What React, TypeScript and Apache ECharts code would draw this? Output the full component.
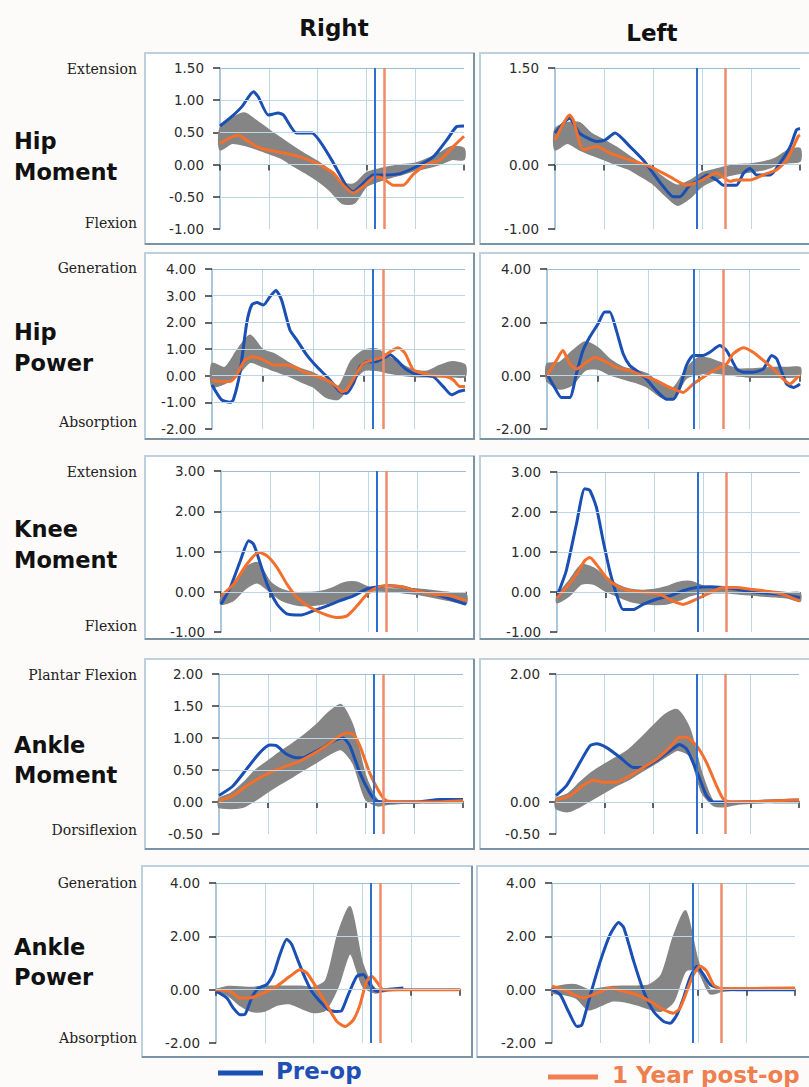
import React, { useEffect, useRef } from "react";
import * as echarts from "echarts";

// ---------- DATA ----------
const BAND_X = [0, 5, 10, 15, 20, 25, 30, 35, 40, 45, 50, 55, 60, 65, 70, 75, 80, 85, 90, 95, 100];

const RIGHT_TOE_PRE = 63.4;
const RIGHT_TOE_POST = 67.5;
const LEFT_TOE_PRE = 58;
const LEFT_TOE_POST = 69.5;

// Hip moment
const RHM_TICKS = [-1, -0.5, 0, 0.5, 1, 1.5];
const RHM_LO = [0.23, 0.33, 0.30, 0.24, 0.17, 0.10, -0.02, -0.13, -0.25, -0.40, -0.60, -0.60, -0.34, -0.26, -0.20, -0.15, -0.09, -0.05, 0.00, 0.08, 0.08];
const RHM_HI = [0.56, 0.72, 0.80, 0.68, 0.54, 0.41, 0.28, 0.16, 0.05, -0.09, -0.28, -0.30, -0.13, -0.07, -0.03, 0.00, 0.02, 0.09, 0.18, 0.28, 0.25];
const RHM_PRE = [[0,0.60],[5.5,0.77],[9,0.9],[13.7,1.13],[15.7,1.05],[19.8,0.77],[23.9,0.80],[26,0.77],[31.4,0.49],[37.6,0.49],[45,0.12],[51.9,-0.34],[54.6,-0.42],[58,-0.32],[62.8,-0.16],[67,-0.16],[73.8,-0.14],[80.6,-0.03],[87.4,0.12],[92.9,0.38],[97,0.59],[100,0.60]];
const RHM_POST = [[0,0.33],[7.5,0.46],[10.9,0.38],[15,0.28],[19.1,0.23],[26,0.18],[32.8,0.12],[39.6,0.02],[46.4,-0.13],[50.5,-0.32],[54.6,-0.44],[58.7,-0.34],[63.5,-0.19],[67,-0.22],[71,-0.32],[75.1,-0.32],[79.2,-0.15],[84.7,0.0],[90.2,0.07],[95.6,0.28],[100,0.44]];

const LHM_TICKS = [-1, 0, 1.5];
const LHM_LO = [0.23, 0.33, 0.23, 0.15, 0.08, 0.00, -0.07, -0.18, -0.30, -0.48, -0.63, -0.52, -0.34, -0.24, -0.18, -0.14, -0.11, -0.08, -0.02, 0.03, 0.05];
const LHM_HI = [0.55, 0.65, 0.65, 0.48, 0.38, 0.27, 0.14, 0.02, -0.08, -0.22, -0.32, -0.25, -0.13, -0.08, -0.03, 0.00, 0.01, 0.04, 0.10, 0.22, 0.25];
const LHM_PRE = [[0,0.49],[6,0.72],[10,0.49],[17,0.36],[20.4,0.38],[24.5,0.49],[30.6,0.28],[36,0.07],[40,-0.13],[44.2,-0.34],[48.3,-0.50],[51,-0.50],[55,-0.32],[59,-0.24],[62,-0.16],[66,-0.24],[68.7,-0.32],[74,-0.32],[77,-0.13],[79.6,-0.06],[82.3,-0.16],[87.8,-0.16],[91.8,0.02],[96,0.28],[98.6,0.54],[100,0.56]];
const LHM_POST = [[0,0.38],[6,0.77],[7.5,0.69],[11.6,0.23],[17,0.28],[22.4,0.18],[30.6,0.07],[38.8,-0.03],[47,-0.19],[53.7,-0.32],[59,-0.26],[66,-0.13],[71.4,-0.26],[74,-0.24],[79.6,-0.24],[85,-0.16],[90.5,-0.08],[94.6,0.07],[99.3,0.44],[100,0.46]];

// Hip power
const RHP_TICKS = [-2, -1, 0, 1, 2, 3, 4];
const RHP_LO = [-0.41, -0.30, 0.0, 0.5, 0.35, 0.17, 0.0, -0.22, -0.42, -0.80, -0.88, -0.30, 0.20, 0.20, 0.10, 0.02, -0.03, -0.04, -0.04, -0.04, -0.04];
const RHP_HI = [0.46, 0.30, 0.96, 1.52, 0.98, 0.80, 0.50, 0.26, 0.10, -0.15, -0.40, 0.55, 0.95, 1.00, 0.70, 0.42, 0.20, 0.17, 0.38, 0.52, 0.40];
const RHP_PRE = [[0,-0.35],[3.8,-0.91],[7.1,-1.0],[8.4,-0.91],[11,0.09],[13.7,1.96],[15.7,2.65],[17.7,2.74],[20.3,2.65],[22.9,2.96],[25.3,3.19],[27.5,2.84],[30.8,1.71],[33.5,1.34],[37.4,0.78],[41.4,0.34],[46.6,-0.16],[50.6,-0.6],[53.2,-0.66],[55.9,-0.29],[58.5,0.34],[61.1,0.52],[64.4,0.52],[67.7,0.65],[70.4,0.78],[73,0.59],[76.3,0.27],[79.6,0.09],[82.2,0.03],[87.5,-0.04],[91.4,-0.41],[94.7,-0.72],[97.4,-0.6],[100,-0.54]];
const RHP_POST = [[0,-0.16],[3.2,-0.22],[7.1,-0.22],[9.7,0.02],[13,0.59],[16.3,0.71],[20.3,0.59],[24.2,0.4],[28.2,0.4],[32.1,0.34],[36.1,0.15],[40.1,0.02],[45.3,-0.16],[49.3,-0.41],[51.3,-0.6],[53.2,-0.54],[57.2,0.09],[59.8,0.46],[63.8,0.59],[67.7,0.71],[70.4,0.9],[73.6,1.05],[76.3,0.84],[79.6,0.21],[83.5,0.09],[87.5,0.02],[92.8,-0.04],[95.4,-0.16],[98,-0.41],[100,-0.41]];

const LHP_TICKS = [-2, 0, 2, 4];
const LHP_LO = [-0.19, -0.50, -0.35, 0.20, 0.25, 0.03, -0.12, -0.25, -0.45, -0.80, -0.85, -0.10, 0.05, 0.12, 0.05, 0.00, -0.05, -0.06, -0.06, -0.06, 0.00];
const LHP_HI = [0.44, 0.50, 0.92, 1.26, 1.05, 0.60, 0.32, 0.20, 0.05, -0.35, -0.45, 0.25, 0.68, 0.62, 0.43, 0.25, 0.25, 0.28, 0.31, 0.31, 0.31];
const LHP_PRE = [[0,0.06],[3,-0.44],[5.7,-0.82],[9,-0.82],[11.6,0.06],[14.2,0.94],[16.9,1.45],[20.2,1.95],[22.8,2.39],[24.8,2.39],[27.4,1.70],[30.1,0.82],[32.7,0.38],[35.4,0.19],[39.3,-0.13],[43.3,-0.57],[47.2,-0.88],[49.9,-0.88],[52.5,-0.44],[55.1,0.38],[57.8,0.76],[61.7,0.76],[64.4,0.88],[68.3,1.13],[71,0.94],[75,0.25],[77.6,0.13],[81.5,0.13],[85.5,0.25],[88.8,0.76],[90.8,0.63],[94.7,-0.31],[97.4,-0.44],[100,-0.31]];
const LHP_POST = [[0,0],[3.7,0.57],[6.3,0.94],[9,0.44],[11.6,0.25],[15.6,0.5],[18.9,0.69],[22.2,0.57],[27.4,0.31],[32.7,0.19],[38,0.0],[43.3,-0.19],[48.5,-0.44],[53.8,-0.63],[57.8,-0.31],[61.7,-0.06],[67,0.25],[71,0.44],[73.6,0.82],[77.6,1.05],[81.5,0.88],[85.5,0.57],[89.4,0.25],[93.4,-0.13],[96,-0.31],[100,0.06]];

// Knee moment
const RKM_TICKS = [-1, 0, 1, 2, 3];
const RKM_LO = [-0.31, -0.22, 0.08, 0.22, 0.00, -0.22, -0.32, -0.35, -0.32, -0.26, -0.15, -0.04, 0.02, 0.02, 0.01, -0.03, -0.06, -0.12, -0.18, -0.24, -0.31];
const RKM_HI = [-0.14, 0.18, 0.60, 0.72, 0.25, 0.05, -0.02, -0.02, 0.00, 0.08, 0.22, 0.24, 0.12, 0.08, 0.07, 0.07, 0.07, 0.04, 0.00, -0.03, -0.06];
const RKM_PRE = [[0,-0.31],[3.8,0.11],[7.9,0.77],[11.3,1.27],[13.3,1.18],[16.1,0.69],[18.8,0.19],[22.9,-0.31],[26.9,-0.55],[32.4,-0.58],[37.8,-0.47],[43.3,-0.35],[48.7,-0.22],[54.1,-0.10],[59.6,0.07],[63.7,0.12],[69.1,0.15],[74.6,0.11],[80,0.02],[86.8,-0.06],[93.6,-0.18],[100,-0.31]];
const RKM_POST = [[0,-0.1],[5.2,0.19],[10.6,0.69],[15.4,0.98],[18.8,0.89],[22.9,0.6],[26.9,0.19],[31,-0.14],[36.5,-0.39],[41.9,-0.55],[47.3,-0.64],[51.4,-0.6],[55.5,-0.35],[59.6,-0.06],[63.7,0.11],[67.8,0.15],[73.2,0.13],[80,0.02],[86.8,-0.06],[93.6,-0.1],[100,-0.22]];

const LKM_TICKS = [-1, 0, 1, 2, 3];
const LKM_LO = [-0.27, -0.10, 0.20, 0.20, 0.02, -0.11, -0.23, -0.29, -0.31, -0.30, -0.21, -0.09, -0.02, -0.02, -0.02, -0.05, -0.07, -0.10, -0.12, -0.15, -0.23];
const LKM_HI = [-0.10, 0.28, 0.68, 0.60, 0.38, 0.18, 0.07, 0.04, 0.06, 0.13, 0.24, 0.26, 0.15, 0.10, 0.07, 0.05, 0.03, 0.03, 0.01, -0.02, -0.02];
const LKM_PRE = [[0,-0.1],[3.8,0.53],[8,1.7],[11.4,2.58],[13.5,2.54],[16.2,2.12],[19,1.28],[21.7,0.53],[24.5,-0.06],[27.2,-0.44],[31.3,-0.44],[35.4,-0.31],[40.9,-0.18],[46.4,-0.1],[51.9,0.03],[57.4,0.11],[62.9,0.13],[68.4,0.11],[73.9,0.07],[79.4,0.01],[84.9,-0.02],[93.1,-0.06],[100,-0.14]];
const LKM_POST = [[0,-0.14],[3.8,0.11],[8,0.44],[11.4,0.78],[13.5,0.86],[16.2,0.69],[20.3,0.36],[24.5,0.15],[30,0.03],[36.8,-0.02],[42.3,-0.06],[47.8,-0.23],[51.9,-0.31],[57.4,-0.18],[62.9,-0.02],[68.4,0.11],[73.9,0.11],[79.4,0.07],[84.9,0.03],[93.1,-0.06],[100,-0.23]];

// Ankle moment
const RAM_TICKS = [-0.5, 0, 0.5, 1, 1.5, 2];
const RAM_LO = [-0.08, -0.10, -0.08, 0.03, 0.16, 0.28, 0.39, 0.51, 0.62, 0.74, 0.82, 0.60, 0.05, -0.06, -0.03, -0.02, -0.01, -0.01, -0.01, -0.01, -0.01];
const RAM_HI = [0.05, 0.14, 0.30, 0.50, 0.64, 0.78, 0.91, 1.05, 1.21, 1.40, 1.52, 1.18, 0.42, 0.03, 0.01, 0.01, 0.01, 0.01, 0.01, 0.01, 0.01];
const RAM_PRE = [[0,0.1],[5.7,0.25],[11.2,0.51],[16.7,0.77],[20.8,0.89],[23.5,0.88],[27.6,0.75],[31.7,0.69],[34.4,0.69],[38.5,0.77],[42.6,0.85],[46.7,0.95],[50.8,1.0],[53.6,0.88],[57.7,0.46],[61.7,0.15],[64.5,0.02],[68.6,0.0],[80.9,0.0],[90.4,0.04],[100,0.04]];
const RAM_POST = [[0,0.02],[5.7,0.1],[11.2,0.25],[16.7,0.38],[20.8,0.46],[26.2,0.54],[33.1,0.64],[38.5,0.75],[44,0.88],[49.5,1.03],[52.2,1.08],[54.9,1.06],[57.7,0.88],[61.7,0.46],[65.8,0.15],[68.6,0.02],[74,0.0],[87.7,0.0],[100,0.02]];

const LAM_TICKS = [-0.5, 0, 2];
const LAM_LO = [-0.10, -0.15, -0.07, 0.04, 0.15, 0.26, 0.35, 0.47, 0.58, 0.70, 0.81, 0.72, 0.15, -0.06, -0.07, -0.03, -0.02, -0.01, -0.01, -0.01, -0.01];
const LAM_HI = [0.05, 0.13, 0.31, 0.47, 0.59, 0.70, 0.82, 1.00, 1.19, 1.37, 1.44, 1.15, 0.45, -0.01, -0.01, 0.00, 0.01, 0.01, 0.01, 0.01, 0.01];
const LAM_PRE = [[0,0.1],[4.4,0.26],[9.9,0.62],[14,0.88],[16.7,0.91],[20.8,0.85],[26.3,0.70],[31.8,0.54],[35.9,0.54],[41.4,0.65],[46.8,0.8],[50.9,0.9],[53.7,0.83],[56.4,0.62],[59.2,0.36],[61.9,0.1],[64.7,0.0],[71.5,0.0],[100,0.03]];
const LAM_POST = [[0,0.03],[5.8,0.1],[11.2,0.26],[15.3,0.34],[19.5,0.31],[24.9,0.31],[30.4,0.41],[35.9,0.54],[41.4,0.67],[46.8,0.85],[50.9,1.01],[53.7,1.01],[57.8,0.88],[61.9,0.62],[66,0.26],[68.8,0.05],[71.5,0.0],[100,0.03]];

// Ankle power
const RAP_TICKS = [-2, 0, 2, 4];
const RAP_LO = [-0.06, -0.22, -0.60, -0.82, -0.80, -0.58, -0.52, -0.70, -0.86, -0.75, 0.10, 1.35, 0.15, -0.12, -0.05, -0.02, -0.02, -0.02, -0.02, -0.02, -0.02];
const RAP_HI = [0.00, 0.12, 0.10, 0.08, 0.13, 0.13, 0.13, 0.13, 0.08, 0.35, 2.10, 3.10, 1.00, 0.05, 0.02, 0.02, 0.02, 0.02, 0.02, 0.02, 0.02];
const RAP_PRE = [[0,-0.06],[4.4,-0.31],[7.1,-0.69],[9.8,-0.94],[11.9,-0.92],[14.6,-0.31],[17.3,0.06],[20.8,0.19],[23.5,0.57],[26.2,1.32],[29,1.89],[31,1.7],[33.7,1.07],[36.5,0.44],[39.2,-0.06],[42.6,-0.44],[46,-0.75],[49.5,-0.82],[51.5,-0.79],[54.2,-0.19],[57.7,0.5],[60.4,0.57],[63.1,0.19],[65.8,-0.06],[69.9,0.0],[76.8,0.06]];
const RAP_POST = [[0,0],[5.7,-0.06],[9.8,-0.31],[13.9,-0.31],[19.4,-0.13],[24.9,0.13],[30.3,0.5],[34.4,0.75],[37.2,0.63],[41.3,0.06],[45.4,-0.57],[49.5,-1.19],[52.9,-1.38],[56.3,-1.13],[59,-0.57],[61.7,0.31],[63.8,0.5],[65.8,0.31],[68.6,0.0],[100,0.0]];

const LAP_TICKS = [-2, 0, 2, 4];
const LAP_LO = [-0.13, -0.18, -0.32, -0.75, -0.60, -0.42, -0.45, -0.57, -0.72, -0.80, -0.45, 0.70, 0.70, -0.15, -0.06, -0.02, -0.02, -0.02, -0.02, -0.02, -0.02];
const LAP_HI = [0.06, 0.17, 0.18, 0.00, 0.05, 0.12, 0.13, 0.13, 0.18, 0.55, 2.00, 2.95, 1.10, 0.02, 0.02, 0.02, 0.02, 0.02, 0.02, 0.02, 0.02];
const LAP_PRE = [[0,0],[3.4,-0.19],[6.8,-0.82],[10.3,-1.38],[12.3,-1.32],[15.8,-0.19],[19.9,1.07],[24,2.08],[27.4,2.52],[29.5,2.33],[33.6,1.07],[37.7,-0.06],[41.8,-0.82],[45.9,-1.19],[48.6,-1.26],[51.4,-0.94],[54.1,-0.31],[56.8,0.44],[59.6,0.88],[62.3,0.57],[65.1,0.19],[69.2,0.04],[76,0.0],[100,0.0]];
const LAP_POST = [[0,0.13],[4.8,0.0],[8.9,-0.19],[13,-0.31],[18.5,-0.13],[24,0.06],[29.5,-0.06],[34.9,-0.19],[40.4,-0.44],[45.9,-0.75],[50,-0.88],[52.7,-0.69],[55.5,-0.06],[58.2,0.57],[61,0.88],[63.7,0.69],[66.4,0.19],[69.2,0.04],[100,0.06]];

const ROW_NAMES = [["Hip", "Moment"], ["Hip", "Power"], ["Knee", "Moment"], ["Ankle", "Moment"], ["Ankle", "Power"]];
const ROW_SENSE = [["Extension", "Flexion"], ["Generation", "Absorption"], ["Extension", "Flexion"], ["Plantar Flexion", "Dorsiflexion"], ["Generation", "Absorption"]];
const SIDE_TITLES = ["Right", "Left"];
const LEGEND_NAMES = ["Pre-op", "1 Year post-op"];

// ---------- LAYOUT / STYLE ----------
const BLUE = "#1a4fb4";
const ORANGE = "#f26f2c";
const GRAY = "#858585";
const GRID_C = "#bcd5e7";
const SERIF = "'DejaVu Serif', 'Liberation Serif', serif";

type P = { g: number[]; ticks: number[]; lo: number[]; hi: number[]; pre: number[][]; post: number[][]; toe: number[] };
const PANELS: P[] = [
  { g: [220, 68, 244, 161], ticks: RHM_TICKS, lo: RHM_LO, hi: RHM_HI, pre: RHM_PRE, post: RHM_POST, toe: [RIGHT_TOE_PRE, RIGHT_TOE_POST] },
  { g: [555, 68, 245, 161], ticks: LHM_TICKS, lo: LHM_LO, hi: LHM_HI, pre: LHM_PRE, post: LHM_POST, toe: [LEFT_TOE_PRE, LEFT_TOE_POST] },
  { g: [212, 269, 253, 160], ticks: RHP_TICKS, lo: RHP_LO, hi: RHP_HI, pre: RHP_PRE, post: RHP_POST, toe: [RIGHT_TOE_PRE, RIGHT_TOE_POST] },
  { g: [547, 269, 253, 160], ticks: LHP_TICKS, lo: LHP_LO, hi: LHP_HI, pre: LHP_PRE, post: LHP_POST, toe: [LEFT_TOE_PRE, LEFT_TOE_POST] },
  { g: [221, 471, 245, 161], ticks: RKM_TICKS, lo: RKM_LO, hi: RKM_HI, pre: RKM_PRE, post: RKM_POST, toe: [RIGHT_TOE_PRE, RIGHT_TOE_POST] },
  { g: [557, 472, 243, 160], ticks: LKM_TICKS, lo: LKM_LO, hi: LKM_HI, pre: LKM_PRE, post: LKM_POST, toe: [LEFT_TOE_PRE, LEFT_TOE_POST] },
  { g: [219, 674, 244, 160], ticks: RAM_TICKS, lo: RAM_LO, hi: RAM_HI, pre: RAM_PRE, post: RAM_POST, toe: [RIGHT_TOE_PRE, RIGHT_TOE_POST] },
  { g: [556, 674, 243, 160], ticks: LAM_TICKS, lo: LAM_LO, hi: LAM_HI, pre: LAM_PRE, post: LAM_POST, toe: [LEFT_TOE_PRE, LEFT_TOE_POST] },
  { g: [216, 883, 244, 160], ticks: RAP_TICKS, lo: RAP_LO, hi: RAP_HI, pre: RAP_PRE, post: RAP_POST, toe: [RIGHT_TOE_PRE, RIGHT_TOE_POST] },
  { g: [552, 883, 243, 160], ticks: LAP_TICKS, lo: LAP_LO, hi: LAP_HI, pre: LAP_PRE, post: LAP_POST, toe: [LEFT_TOE_PRE, LEFT_TOE_POST] },
];

const BOXES = [
  [145, 53, 329, 191], [480, 53, 335, 191],
  [145, 253, 329, 186], [480, 253, 335, 186],
  [145, 456, 329, 183], [480, 456, 335, 183],
  [145, 659, 329, 190], [480, 659, 335, 190],
  [142, 866, 330, 191], [477, 866, 338, 191],
];
const ROW_Y = [[141, 172], [332, 363], [529, 560], [745, 775], [947, 977]];
const SENSE_Y = [[69, 223], [268, 422], [472, 626], [675, 830], [883, 1038]];

function buildOption() {
  const grid: any[] = [];
  const xAxis: any[] = [];
  const yAxis: any[] = [];
  const series: any[] = [];
  PANELS.forEach((p, i) => {
    const [l, t, w, h] = p.g;
    const ymin = p.ticks[0];
    const ymax = p.ticks[p.ticks.length - 1];
    grid.push({ left: l, top: t, width: w, height: h });
    xAxis.push({
      gridIndex: i, type: "value", min: 0, max: 100, interval: 20,
      axisLine: { show: false },
      axisTick: { show: true, length: 6, inside: false, lineStyle: { color: "#333", width: 1.5 } },
      axisLabel: { show: false },
      splitLine: { show: true, showMinLine: false, showMaxLine: false, lineStyle: { color: GRID_C, width: 1 } },
    });
    yAxis.push({
      gridIndex: i, type: "value", min: ymin, max: ymax,
      axisLine: { show: true, lineStyle: { color: "#8fb5cf", width: 1.5 } },
      axisTick: { show: true, length: 7, customValues: p.ticks, lineStyle: { color: "#333", width: 1.5 } },
      axisLabel: {
        show: true, customValues: p.ticks, margin: 16,
        formatter: (v: number) => v.toFixed(2),
        fontFamily: "DejaVu Sans", fontSize: 13.5, color: "#2b2b2b",
      },
      splitLine: { show: false },
    });
    // horizontal gridlines
    series.push({
      type: "line", xAxisIndex: i, yAxisIndex: i, data: [], z: 1, silent: true,
      markLine: {
        silent: true, symbol: ["none", "none"], label: { show: false },
        lineStyle: { color: GRID_C, width: 1, type: "solid" },
        data: p.ticks.filter((v) => v !== ymin).map((v) => ({ yAxis: v, lineStyle: v === ymax ? { color: "#9dbdd3", width: 1.2, type: "solid" } : undefined })),
      },
    });
    // normal-range band drawn as polygon through the axis scales
    const lo = p.lo, hi = p.hi;
    series.push({
      type: "custom", xAxisIndex: i, yAxisIndex: i, coordinateSystem: "cartesian2d",
      data: [[0, 0]], silent: true, z: 2,
      renderItem: (_params: any, api: any) => {
        const upper = BAND_X.map((x, k) => api.coord([x, hi[k]]));
        const lower = BAND_X.map((x, k) => api.coord([x, lo[k]])).reverse();
        return {
          type: "polygon",
          shape: { points: upper.concat(lower), smooth: 0.25 },
          style: { fill: GRAY, stroke: GRAY, lineWidth: 1.5 },
        };
      },
    });
    series.push({
      type: "line", xAxisIndex: i, yAxisIndex: i, data: p.pre, symbol: "none", smooth: 0.2,
      lineStyle: { color: BLUE, width: 3 }, silent: true, z: 3,
    });
    series.push({
      type: "line", xAxisIndex: i, yAxisIndex: i, data: p.post, symbol: "none", smooth: 0.2,
      lineStyle: { color: ORANGE, width: 3 }, silent: true, z: 4,
    });
    series.push({
      type: "line", xAxisIndex: i, yAxisIndex: i, data: [], z: 5, silent: true,
      markLine: {
        silent: true, symbol: ["none", "none"], label: { show: false },
        data: [
          { xAxis: p.toe[0], lineStyle: { color: "#2d6fd0", width: 2, type: "solid" } },
          { xAxis: p.toe[1], lineStyle: { color: "#ef8c6c", width: 2.5, type: "solid" } },
        ],
      },
    });
  });

  const graphic: any[] = [];
  BOXES.forEach(([x, y, w, h]) => {
    graphic.push({ type: "rect", z: -10, shape: { x, y, width: w, height: h }, style: { fill: "#ffffff", stroke: "#bcd0de", lineWidth: 2 } });
    graphic.push({ type: "polyline", z: -9, shape: { points: [[x, y + h], [x + w, y + h], [x + w, y]] }, style: { fill: "none", stroke: "#7c93a4", lineWidth: 2 } });
  });
  const boldSans = { fontFamily: "DejaVu Sans", fontWeight: "bold" };
  graphic.push({ type: "text", style: { text: SIDE_TITLES[0], x: 334, y: 28, align: "center", verticalAlign: "middle", ...boldSans, fontSize: 23, fill: "#111" } });
  graphic.push({ type: "text", style: { text: SIDE_TITLES[1], x: 652, y: 33, align: "center", verticalAlign: "middle", ...boldSans, fontSize: 23, fill: "#111" } });
  ROW_NAMES.forEach((names, r) => {
    names.forEach((n, k) => {
      graphic.push({ type: "text", style: { text: n, x: 14, y: ROW_Y[r][k], align: "left", verticalAlign: "middle", ...boldSans, fontSize: 22.5, fill: "#111" } });
    });
    ROW_SENSE[r].forEach((n, k) => {
      graphic.push({ type: "text", style: { text: n, x: 137, y: SENSE_Y[r][k], align: "right", verticalAlign: "middle", fontFamily: SERIF, fontSize: 14, fill: "#222" } });
    });
  });
  // legend
  graphic.push({ type: "line", shape: { x1: 218, y1: 1073, x2: 263, y2: 1073 }, style: { stroke: BLUE, lineWidth: 5 } });
  graphic.push({ type: "text", style: { text: LEGEND_NAMES[0], x: 276, y: 1071, align: "left", verticalAlign: "middle", ...boldSans, fontSize: 23, fill: "#1f4fb5" } });
  graphic.push({ type: "line", shape: { x1: 548, y1: 1077, x2: 598, y2: 1077 }, style: { stroke: "#f08050", lineWidth: 5 } });
  graphic.push({ type: "text", style: { text: LEGEND_NAMES[1], x: 612, y: 1075, align: "left", verticalAlign: "middle", ...boldSans, fontSize: 23, fill: "#ef7f4f" } });

  return { animation: false, backgroundColor: "#fcfbf9", grid, xAxis, yAxis, series, graphic };
}

export default function App() {
  const ref = useRef<HTMLDivElement>(null);
  useEffect(() => {
    if (!ref.current) return;
    const chart = echarts.init(ref.current, undefined, { renderer: "svg" });
    chart.setOption(buildOption() as any);
    return () => chart.dispose();
  }, []);
  return <div ref={ref} style={{ position: "absolute", left: 0, top: 0, width: 809, height: 1087 }} />;
}
